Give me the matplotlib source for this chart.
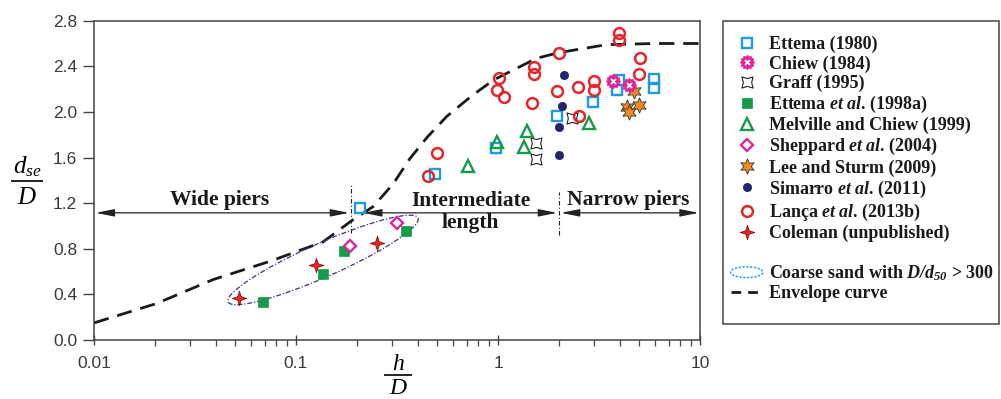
import numpy as np
import matplotlib
matplotlib.use("Agg")
import matplotlib.pyplot as plt
import matplotlib.patches as mpatches
from matplotlib.lines import Line2D
from matplotlib.path import Path
from matplotlib.legend_handler import HandlerPatch, HandlerTuple

plt.rcParams['mathtext.fontset'] = 'custom'
plt.rcParams['mathtext.rm'] = 'Liberation Serif'
plt.rcParams['mathtext.it'] = 'Liberation Serif:italic'
plt.rcParams['mathtext.bf'] = 'Liberation Serif:bold'
plt.rcParams['mathtext.bfit'] = 'Liberation Serif:italic:bold'

# ---------------- data ----------------
ettema1980_x = [0.207, 0.488, 0.974, 1.95, 2.94, 3.96, 3.90, 5.94, 5.94]
ettema1980_y = [1.155, 1.46, 1.68, 1.96, 2.09, 2.28, 2.19, 2.29, 2.21]
chiew_x = [3.72, 4.47]
chiew_y = [2.27, 2.24]
graff_x = [1.54, 1.54, 2.32]
graff_y = [1.73, 1.59, 1.95]
ettema1998_x = [0.0684, 0.1365, 0.173, 0.351]
ettema1998_y = [0.336, 0.58, 0.78, 0.96]
melville_x = [0.71, 0.99, 1.35, 1.39, 2.83]
melville_y = [1.53, 1.74, 1.69, 1.83, 1.90]
sheppard_x = [0.185, 0.315]
sheppard_y = [0.825, 1.03]
lee_x = [4.73, 4.37, 4.47, 4.99]
lee_y = [2.18, 2.04, 2.00, 2.06]
simarro_x = [2.12, 2.07, 2.0, 2.0]
simarro_y = [2.32, 2.05, 1.87, 1.62]
lanca_x = [0.452, 0.50, 0.985, 1.01, 1.07, 1.47, 1.50, 1.50, 1.97, 2.0,
           2.5, 2.51, 3.0, 3.0, 3.97, 3.97, 5.0, 5.05]
lanca_y = [1.44, 1.64, 2.19, 2.30, 2.13, 2.08, 2.33, 2.39, 2.18, 2.52,
           2.22, 1.96, 2.27, 2.19, 2.63, 2.69, 2.33, 2.47]
coleman_x = [0.0525, 0.125, 0.251]
coleman_y = [0.366, 0.66, 0.85]

envelope_x = [0.01, 0.0111, 0.0204, 0.0389, 0.0743, 0.136, 0.19, 0.241, 0.303,
              0.366, 0.447, 0.557, 0.74, 0.95, 1.55, 2.0, 3.45, 6.0, 10.0]
envelope_y = [0.15, 0.175, 0.32, 0.53, 0.69, 0.86, 1.05, 1.17, 1.37,
              1.59, 1.78, 1.96, 2.14, 2.28, 2.47, 2.52, 2.59, 2.60, 2.60]

y_ticks = [0.0, 0.4, 0.8, 1.2, 1.6, 2.0, 2.4, 2.8]
x_ticks = [0.01, 0.1, 1, 10]
x_ticklabels = ['0.01', '0.1', '1', '10']

wide_limit = 0.187
narrow_limit = 2.0

# ---------------- figure ----------------
W, H = 1001, 399
fig = plt.figure(figsize=(W / 100, H / 100), dpi=100)
ax = fig.add_axes([94 / W, 1 - 340 / H, (700 - 94) / W, (340 - 20.7) / H])
ax.set_xscale('log')
ax.set_xlim(0.01, 10)
ax.set_ylim(0, 2.8)

ax.set_yticks(y_ticks)
ax.set_yticklabels([f'{v:.1f}' for v in y_ticks])
ax.set_xticks(x_ticks)
ax.set_xticklabels(x_ticklabels)
for lab in ax.get_xticklabels() + ax.get_yticklabels():
    lab.set_fontfamily('Liberation Sans')
    lab.set_fontsize(12.5)
    lab.set_color('#3a3a3a')
ax.tick_params(axis='y', which='major', direction='out', length=8, width=1.0,
               color='#444444', pad=4)
ax.tick_params(axis='y', which='minor', left=False)
ax.tick_params(axis='x', which='major', direction='inout', length=7, width=1.0,
               color='#444444', pad=8)
ax.tick_params(axis='x', which='minor', direction='out', length=4, width=0.9,
               color='#444444')
for sp in ax.spines.values():
    sp.set_linewidth(1.1)
    sp.set_color('#444444')

# envelope curve
ax.plot(envelope_x, envelope_y, color='#1a1a1a', lw=2.0, ls=(0, (5.5, 3.2)),
        zorder=2, solid_capstyle='butt', dash_capstyle='butt')

# ellipse (coarse sand), drawn in log-x space
ell_c = (-0.866, 0.702)
ell_a = (0.470, 0.368)
ell_b = (0.034, -0.136)
t = np.linspace(0, 2 * np.pi, 200)
ell_lx = ell_c[0] + ell_a[0] * np.cos(t) + ell_b[0] * np.sin(t)
ell_ly = ell_c[1] + ell_a[1] * np.cos(t) + ell_b[1] * np.sin(t)
ax.plot(10 ** ell_lx, ell_ly, color='#34348c', lw=0.9, ls=(0, (4, 1.5, 1, 1.5)),
        zorder=2)

# vertical separators
ax.plot([wide_limit, wide_limit], [0.94, 1.36], color='#222222', lw=0.8,
        ls=(0, (4, 2, 1, 2)), zorder=2)
ax.plot([narrow_limit, narrow_limit], [0.92, 1.30], color='#222222', lw=0.8,
        ls=(0, (4, 2, 1, 2)), zorder=2)

# arrows
arrow_y = 1.115
aprops = dict(arrowstyle='<|-|>,head_length=0.8,head_width=0.16',
              color='#222222', lw=0.9, shrinkA=0, shrinkB=0, mutation_scale=14)
ax.annotate('', xy=(0.0102, arrow_y), xytext=(0.183, arrow_y), arrowprops=aprops)
ax.annotate('', xy=(0.215, arrow_y), xytext=(1.96, arrow_y), arrowprops=aprops)
ax.annotate('', xy=(2.05, arrow_y), xytext=(9.85, arrow_y), arrowprops=aprops)

tfont = dict(family='Liberation Serif', weight='bold', size=15.5, color='#1a1a1a')
ax.text(0.042, 1.23, 'Wide piers', ha='center', va='center', **tfont)
ax.text(0.733, 1.12, 'Intermediate\nlength', ha='center', va='center',
        linespacing=1.15, **tfont)
ax.text(4.4, 1.23, 'Narrow piers', ha='center', va='center', **tfont)

# marker shapes
ang = np.linspace(0, 2 * np.pi, 25)[:-1]
rad = np.where(np.arange(24) % 2 == 0, 1.0, 0.78)
gear = Path(np.column_stack([rad * np.cos(ang), rad * np.sin(ang)]).tolist() + [[1.0, 0.0]],
            closed=True)
graff_marker = Path([(-1, -1), (0, -0.7), (1, -1), (0.75, 0), (1, 1),
                     (0, 0.7), (-1, 1), (-0.75, 0), (-1, -1)], closed=True)
s = 0.24
plus_marker = Path([(0, 1), (s, s), (1, 0), (s, -s), (0, -1), (-s, -s),
                    (-1, 0), (-s, s), (0, 1)], closed=True)

blue = '#1e9be0'
magenta = '#e0259a'
green = '#179a4a'
red = '#e3262a'
navy = '#26236e'
orange = '#ee8a1e'

h_e80, = ax.plot(ettema1980_x, ettema1980_y, ls='none', marker='s', ms=7.5,
                 mfc='none', mec=blue, mew=1.7, zorder=4)
h_ch1, = ax.plot(chiew_x, chiew_y, ls='none', marker=gear, ms=10.5,
                 mfc=magenta, mec=magenta, mew=0.5, zorder=5)
h_ch2, = ax.plot(chiew_x, chiew_y, ls='none', marker='x', ms=3.6,
                 mec='white', mew=1.3, zorder=6)
h_gr, = ax.plot(graff_x, graff_y, ls='none', marker=graff_marker, ms=8,
                mfc='white', mec='#222222', mew=0.8, zorder=4)
h_e98, = ax.plot(ettema1998_x, ettema1998_y, ls='none', marker='s', ms=7.5,
                 mfc=green, mec=green, mew=0.5, zorder=4)
h_mel, = ax.plot(melville_x, melville_y, ls='none', marker='^', ms=8,
                 mfc='none', mec=green, mew=1.7, zorder=4)
h_sh, = ax.plot(sheppard_x, sheppard_y, ls='none', marker='D', ms=6.5,
                mfc='white', mec=magenta, mew=1.7, zorder=5)
h_lee, = ax.plot(lee_x, lee_y, ls='none', marker=(6, 1, 0), ms=11,
                 mfc=orange, mec='#333333', mew=0.6, zorder=4)
h_sim, = ax.plot(simarro_x, simarro_y, ls='none', marker='o', ms=6,
                 mfc=navy, mec=navy, mew=0.5, zorder=4)
h_lan, = ax.plot(lanca_x, lanca_y, ls='none', marker='o', ms=7.8,
                 mfc='none', mec=red, mew=1.8, zorder=4)
h_col, = ax.plot(coleman_x, coleman_y, ls='none', marker=plus_marker, ms=10.5,
                 mfc=red, mec='#8a0000', mew=0.5, zorder=5)

# axis labels as fractions
fs_lab = 18
fig.text(27 / W, 1 - 167 / H, r'$d_{se}$', ha='center', va='center', fontsize=fs_lab)
fig.add_artist(Line2D([12 / W, 42 / W], [1 - 181 / H, 1 - 181 / H], color='#222222', lw=1.4))
fig.text(27 / W, 1 - 197 / H, r'$D$', ha='center', va='center', fontsize=fs_lab)

fig.text(398 / W, 1 - 363 / H, r'$h$', ha='center', va='center', fontsize=17)
fig.add_artist(Line2D([385 / W, 411 / W], [1 - 375 / H, 1 - 375 / H], color='#222222', lw=1.4))
fig.text(398 / W, 1 - 386.5 / H, r'$D$', ha='center', va='center', fontsize=17)

# legend
blank = Line2D([], [], ls='none', marker='none')
ell_handle = mpatches.Ellipse((0, 0), 1, 1, fill=False, edgecolor='#2aa0e6',
                              ls=(0, (1.5, 1)), lw=1.1)
env_handle = Line2D([], [], color='#1a1a1a', lw=2.0, ls=(0, (3.5, 2.5)))


def make_ellipse(legend, orig_handle, xdescent, ydescent, width, height, fontsize):
    return mpatches.Ellipse((width / 2 - xdescent, height / 2 - ydescent),
                            width * 1.0, height * 0.85)


handles = [h_e80, (h_ch1, h_ch2), h_gr, h_e98, h_mel, h_sh, h_lee, h_sim,
           h_lan, h_col, blank, ell_handle, env_handle]
labels = ['Ettema (1980)', 'Chiew (1984)', 'Graff (1995)',
          r'Ettema $\mathbfit{et\ al}$. (1998a)', 'Melville and Chiew (1999)',
          r'Sheppard $\mathbfit{et\ al}$. (2004)', 'Lee and Sturm (2009)',
          r'Simarro $\mathbfit{et\ al}$. (2011)', r'Lança $\mathbfit{et\ al}$. (2013b)',
          'Coleman (unpublished)', 'Gap (1999)',
          r'Coarse sand with $\mathbfit{D/d}_{\mathbfit{50}}$ > 300', 'Envelope curve']
leg = fig.legend(handles, labels, loc='upper left',
                 bbox_to_anchor=(730.5 / W, 1 - 36 / H), frameon=False,
                 prop=dict(family='Liberation Serif', weight='bold', size=13),
                 labelspacing=0.11, handlelength=1.8, handletextpad=0.33,
                 borderpad=0, borderaxespad=0, numpoints=1,
                 handler_map={mpatches.Ellipse: HandlerPatch(patch_func=make_ellipse),
                              tuple: HandlerTuple(ndivide=1)})
for i, txt in enumerate(leg.get_texts()):
    txt.set_color('#1a1a1a')
    if i == 10:
        txt.set_alpha(0.0)

fig.add_artist(mpatches.Rectangle((723 / W, 1 - 324 / H), (999 - 723) / W, (324 - 21) / H,
                                  transform=fig.transFigure, fill=False,
                                  edgecolor='#444444', lw=1.1))

fig.savefig('out.png', dpi=100)
